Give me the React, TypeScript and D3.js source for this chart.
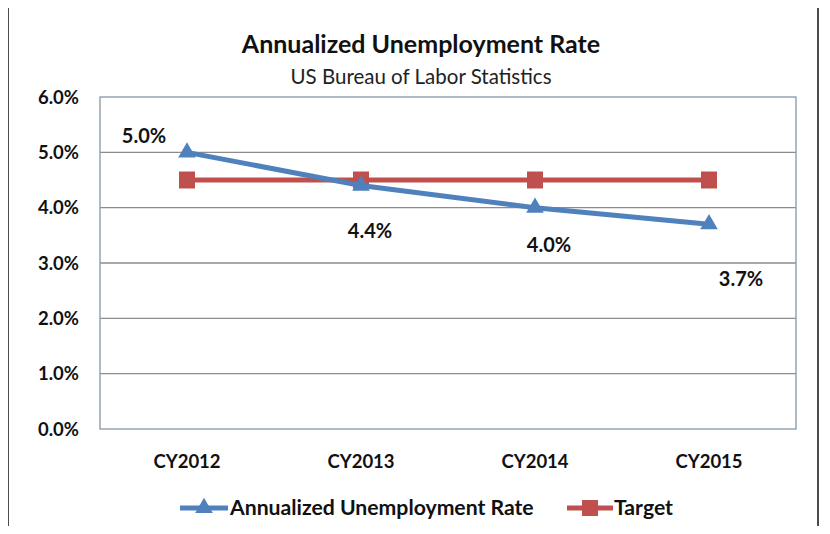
import React from "react";
import * as d3 from "d3";

const categories = ["CY2012", "CY2013", "CY2014", "CY2015"];
const rateValues = [5.0, 4.4, 4.0, 3.7];
const targetValues = [4.5, 4.5, 4.5, 4.5];
const yTicks = [0, 1, 2, 3, 4, 5, 6];
const labelOffsets = [
  [-43, -9],
  [9, 52],
  [14, 44],
  [32, 62],
];

const W = 830;
const H = 534;
const M = { left: 100, right: 34, top: 97, bottom: 105 };
const FONT = "Lato, 'Open Sans', sans-serif";

export default function App() {
  const x = d3
    .scaleBand<string>()
    .domain(categories)
    .range([M.left, W - M.right]);
  const y = d3.scaleLinear().domain([0, 6]).range([H - M.bottom, M.top]);
  const cx = (c: string) => (x(c) as number) + x.bandwidth() / 2;
  const line = d3
    .line<number>()
    .x((_, i) => cx(categories[i]))
    .y((d) => y(d));
  const tri = d3.symbol().type(d3.symbolTriangle).size(135)();
  const blue = "#4F81BD";
  const red = "#C0504D";

  return (
    <div style={{ margin: "-8px" }}>
      <svg width={W} height={H} style={{ display: "block", background: "#fff" }}>
        <line x1={8} x2={8} y1={4} y2={H} stroke="#111" strokeWidth={1.5} />
        <line x1={818} x2={818} y1={4} y2={H} stroke="#111" strokeWidth={1.5} />
        <line x1={8} x2={818} y1={4} y2={4} stroke="#111" strokeWidth={1.5} />
        <text x={421} y={53} textAnchor="middle" fontFamily={FONT} fontWeight={700} fontSize={25} fill="#111">
          Annualized Unemployment Rate
        </text>
        <text x={421} y={84} textAnchor="middle" fontFamily={FONT} fontSize={20.5} fill="#222">
          US Bureau of Labor Statistics
        </text>
        {yTicks.map((t) => (
          <g key={t}>
            {t > 0 && t < 6 && (
              <line x1={M.left} x2={W - M.right} y1={y(t)} y2={y(t)} stroke="#8c8c8c" strokeWidth={1.3} />
            )}
            <text x={79} y={y(t) + 6.5} textAnchor="end" fontFamily={FONT} fontWeight={700} fontSize={18.5} fill="#111">
              {t.toFixed(1)}%
            </text>
          </g>
        ))}
        <rect
          x={M.left}
          y={M.top}
          width={W - M.left - M.right}
          height={H - M.top - M.bottom}
          fill="none"
          stroke="#8497aa"
          strokeWidth={1.3}
        />
        {categories.map((c) => (
          <text key={c} x={cx(c)} y={468} textAnchor="middle" fontFamily={FONT} fontWeight={700} fontSize={18.5} fill="#111">
            {c}
          </text>
        ))}
        <path d={line(targetValues) || ""} fill="none" stroke={red} strokeWidth={5} />
        {targetValues.map((v, i) => (
          <rect key={i} x={cx(categories[i]) - 8} y={y(v) - 8.5} width={16} height={17} fill={red} />
        ))}
        <path d={line(rateValues) || ""} fill="none" stroke={blue} strokeWidth={5} />
        {rateValues.map((v, i) => (
          <path key={i} d={tri || ""} transform={`translate(${cx(categories[i])},${y(v)})`} fill={blue} />
        ))}
        {rateValues.map((v, i) => (
          <text
            key={i}
            x={cx(categories[i]) + labelOffsets[i][0]}
            y={y(v) + labelOffsets[i][1]}
            textAnchor="middle"
            fontFamily={FONT}
            fontWeight={700}
            fontSize={20}
            fill="#111"
          >
            {v.toFixed(1)}%
          </text>
        ))}
        <g>
          <line x1={180} x2={228} y1={508} y2={508} stroke={blue} strokeWidth={5} />
          <path d={tri || ""} transform="translate(204,508)" fill={blue} />
          <text x={230} y={515} fontFamily={FONT} fontWeight={700} fontSize={21.2} fill="#111">
            Annualized Unemployment Rate
          </text>
          <line x1={567} x2={613} y1={508} y2={508} stroke={red} strokeWidth={5} />
          <rect x={582} y={500} width={16} height={16} fill={red} />
          <text x={614} y={515} fontFamily={FONT} fontWeight={700} fontSize={21.2} fill="#111">
            Target
          </text>
        </g>
      </svg>
    </div>
  );
}
